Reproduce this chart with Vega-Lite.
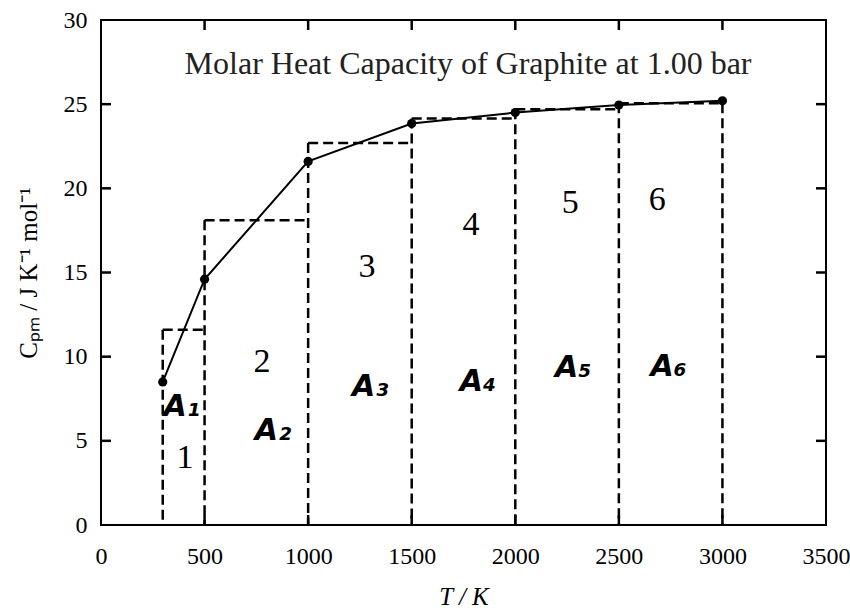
{
  "$schema": "https://vega.github.io/schema/vega-lite/v6.json",
  "width": 725,
  "height": 505,
  "autosize": "none",
  "padding": {"left": 101, "top": 20, "right": 24, "bottom": 85},
  "background": "white",
  "config": {
    "view": {"stroke": "black", "strokeWidth": 2},
    "font": "Liberation Serif",
    "axis": {
      "grid": false,
      "domain": false,
      "ticks": false,
      "labelFont": "Liberation Serif",
      "labelFontSize": 24,
      "labelColor": "black",
      "labelFlush": false,
      "format": "d",
      "titleFont": "Liberation Serif",
      "titleFontSize": 25,
      "titleFontWeight": "normal",
      "titleColor": "black"
    }
  },
  "datasets": {
    "cp": [
      {"T": 298, "Cp": 8.5},
      {"T": 500, "Cp": 14.6},
      {"T": 1000, "Cp": 21.6},
      {"T": 1500, "Cp": 23.85},
      {"T": 2000, "Cp": 24.5},
      {"T": 2500, "Cp": 24.95},
      {"T": 3000, "Cp": 25.2}
    ],
    "edges": [
      {"T": 298, "top": 11.6},
      {"T": 500, "top": 18.1},
      {"T": 1000, "top": 22.7},
      {"T": 1500, "top": 24.15},
      {"T": 2000, "top": 24.7},
      {"T": 2500, "top": 25.05},
      {"T": 3000, "top": 25.05}
    ],
    "bars": [
      {"T1": 298, "T2": 500, "h": 11.6},
      {"T1": 500, "T2": 1000, "h": 18.1},
      {"T1": 1000, "T2": 1500, "h": 22.7},
      {"T1": 1500, "T2": 2000, "h": 24.15},
      {"T1": 2000, "T2": 2500, "h": 24.7},
      {"T1": 2500, "T2": 3000, "h": 25.05}
    ],
    "xticks": [{"v": 500}, {"v": 1000}, {"v": 1500}, {"v": 2000}, {"v": 2500}, {"v": 3000}],
    "yticks": [{"v": 5}, {"v": 10}, {"v": 15}, {"v": 20}, {"v": 25}],
    "nums": [
      {"T": 406, "y": 4.0, "label": "1"},
      {"T": 777, "y": 9.7, "label": "2"},
      {"T": 1284, "y": 15.3, "label": "3"},
      {"T": 1786, "y": 17.8, "label": "4"},
      {"T": 2265, "y": 19.1, "label": "5"},
      {"T": 2685, "y": 19.3, "label": "6"}
    ],
    "areas": [
      {"T": 390, "y": 7.0, "label": "A₁"},
      {"T": 830, "y": 5.6, "label": "A₂"},
      {"T": 1300, "y": 8.2, "label": "A₃"},
      {"T": 1820, "y": 8.5, "label": "A₄"},
      {"T": 2280, "y": 9.3, "label": "A₅"},
      {"T": 2740, "y": 9.4, "label": "A₆"}
    ],
    "title": [
      {"T": 1772, "y": 27.4, "label": "Molar Heat Capacity of Graphite at 1.00 bar"}
    ]
  },
  "layer": [
    {
      "data": {"name": "edges"},
      "mark": {"type": "rule", "color": "black", "strokeWidth": 2.5, "strokeDash": [10, 5]},
      "encoding": {
        "x": {"field": "T", "type": "quantitative", "scale": {"domain": [0, 3500], "nice": false},
              "axis": {"orient": "bottom", "values": [0, 500, 1000, 1500, 2000, 2500, 3000, 3500], "title": "T / K", "titleFontStyle": "italic", "labelPadding": 19, "titlePadding": 16}},
        "y": {"field": "top", "type": "quantitative", "scale": {"domain": [0, 30], "nice": false},
              "axis": {"orient": "left", "values": [0, 5, 10, 15, 20, 25, 30], "title": "Cₚₘ / J K⁻¹ mol⁻¹", "labelPadding": 14, "titlePadding": 22}},
        "y2": {"datum": 0}
      }
    },
    {
      "data": {"name": "bars"},
      "mark": {"type": "rule", "color": "black", "strokeWidth": 2.5, "strokeDash": [10, 5]},
      "encoding": {
        "x": {"field": "T1", "type": "quantitative"},
        "x2": {"field": "T2"},
        "y": {"field": "h", "type": "quantitative"}
      }
    },
    {
      "data": {"name": "xticks"},
      "mark": {"type": "tick", "orient": "vertical", "color": "black", "opacity": 1, "size": 20, "thickness": 2.5, "clip": true},
      "encoding": {
        "x": {"field": "v", "type": "quantitative"},
        "y": {"datum": 0, "type": "quantitative"}
      }
    },
    {
      "data": {"name": "xticks"},
      "mark": {"type": "tick", "orient": "vertical", "color": "black", "opacity": 1, "size": 20, "thickness": 2.5, "clip": true},
      "encoding": {
        "x": {"field": "v", "type": "quantitative"},
        "y": {"datum": 30, "type": "quantitative"}
      }
    },
    {
      "data": {"name": "yticks"},
      "mark": {"type": "tick", "orient": "horizontal", "color": "black", "opacity": 1, "size": 20, "thickness": 2.5, "clip": true},
      "encoding": {
        "y": {"field": "v", "type": "quantitative"},
        "x": {"datum": 0, "type": "quantitative"}
      }
    },
    {
      "data": {"name": "yticks"},
      "mark": {"type": "tick", "orient": "horizontal", "color": "black", "opacity": 1, "size": 20, "thickness": 2.5, "clip": true},
      "encoding": {
        "y": {"field": "v", "type": "quantitative"},
        "x": {"datum": 3500, "type": "quantitative"}
      }
    },
    {
      "data": {"name": "cp"},
      "mark": {"type": "line", "color": "black", "strokeWidth": 2},
      "encoding": {
        "x": {"field": "T", "type": "quantitative"},
        "y": {"field": "Cp", "type": "quantitative"}
      }
    },
    {
      "data": {"name": "cp"},
      "mark": {"type": "point", "filled": true, "color": "black", "opacity": 1, "size": 85},
      "encoding": {
        "x": {"field": "T", "type": "quantitative"},
        "y": {"field": "Cp", "type": "quantitative"}
      }
    },
    {
      "data": {"name": "nums"},
      "mark": {"type": "text", "font": "Liberation Serif", "fontSize": 34, "color": "black", "baseline": "middle", "align": "center"},
      "encoding": {
        "x": {"field": "T", "type": "quantitative"},
        "y": {"field": "y", "type": "quantitative"},
        "text": {"field": "label"}
      }
    },
    {
      "data": {"name": "areas"},
      "mark": {"type": "text", "font": "DejaVu Sans", "fontWeight": "bold", "fontStyle": "italic", "fontSize": 30, "color": "black", "baseline": "middle", "align": "center"},
      "encoding": {
        "x": {"field": "T", "type": "quantitative"},
        "y": {"field": "y", "type": "quantitative"},
        "text": {"field": "label"}
      }
    },
    {
      "data": {"name": "title"},
      "mark": {"type": "text", "font": "Liberation Serif", "fontSize": 32, "color": "#222", "baseline": "middle", "align": "center"},
      "encoding": {
        "x": {"field": "T", "type": "quantitative"},
        "y": {"field": "y", "type": "quantitative"},
        "text": {"field": "label"}
      }
    }
  ]
}
